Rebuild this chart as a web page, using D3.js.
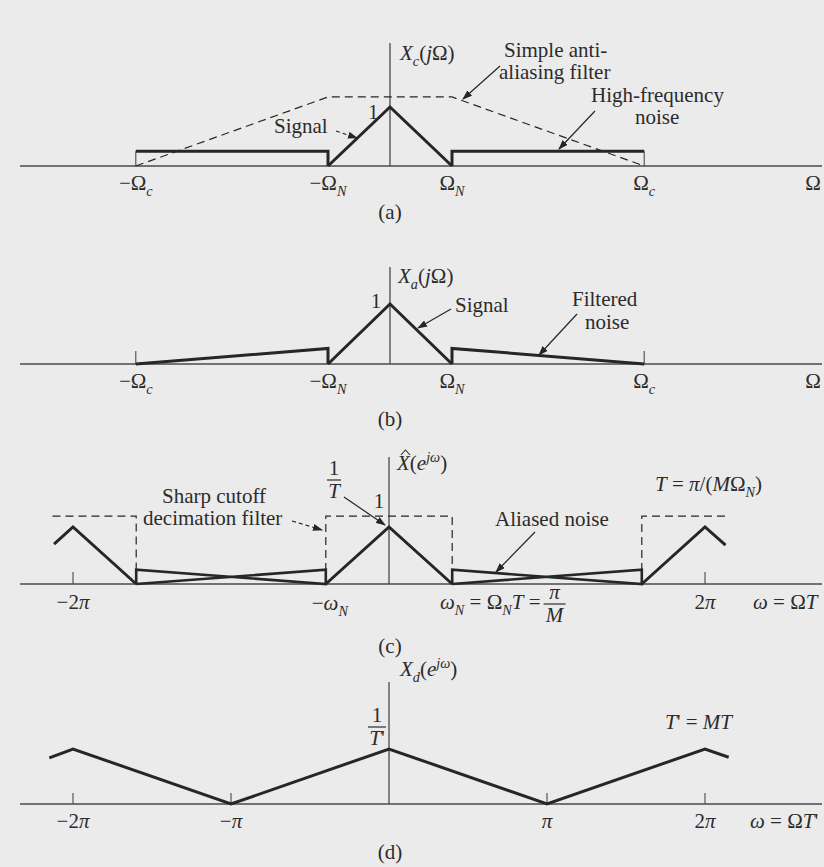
<!DOCTYPE html>
<html lang="en">
<head>
<meta charset="utf-8">
<title>Oversampled A/D conversion spectra</title>
<script src="https://cdn.jsdelivr.net/npm/d3@7"></script>
<style>
  body { margin: 0; background: #ebebeb; }
  svg { display: block; }
  text { font-family: "Liberation Serif", "Times New Roman", Times, "DejaVu Serif", serif; }
</style>
</head>
<body>
<script>

// (a),(b): frequency in units of Omega_N, amplitude relative to the signal peak
var omegaC = 4.1;
var signalPts = [[-1, 0], [0, 1], [1, 0]];
var noiseLevel = 0.25;
var aaFilterPts = [[-omegaC, 0], [-1, 1.17], [1, 1.17], [omegaC, 0]];
var noiseLeftA = [[-omegaC, noiseLevel], [-1, noiseLevel], [-1, 0]];
var noiseRightA = [[1, 0], [1, noiseLevel], [omegaC, noiseLevel]];
var filtNoiseLeftB = [[-omegaC, 0], [-1, 0.26], [-1, 0]];
var filtNoiseRightB = [[1, 0], [1, 0.26], [omegaC, 0]];
var ticksAB = [-omegaC, omegaC];
var tickLabelsAB = [
  { v: -omegaC, parts: [["\u2212\u03A9"], ["c", "is"]] },
  { v: -1, parts: [["\u2212\u03A9"], ["N", "is"]] },
  { v: 1, parts: [["\u03A9"], ["N", "is"]] },
  { v: omegaC, parts: [["\u03A9"], ["c", "is"]] }
];

// (c): omega in units of pi
var wN = 0.4;
var triC = [
  [[-2.12, 0.70], [-2, 1], [-2 + wN, 0]],
  [[-wN, 0], [0, 1], [wN, 0]],
  [[2 - wN, 0], [2, 1], [2.13, 0.68]]
];
var aliasLevel = 0.25;
var aliasC = [
  [[-2 + wN, 0], [-2 + wN, aliasLevel], [-wN, 0], [-wN, aliasLevel], [-2 + wN, 0]],
  [[wN, 0], [wN, aliasLevel], [2 - wN, 0], [2 - wN, aliasLevel], [wN, 0]]
];
var decFilterC = [
  [[-2.13, 1.19], [-2 + wN, 1.19], [-2 + wN, 0]],
  [[-wN, 0], [-wN, 1.19], [wN, 1.19], [wN, 0]],
  [[2 - wN, 0], [2 - wN, 1.19], [2.14, 1.19]]
];
var ticksC = [-2, 2];

// (d): omega in units of pi
var triD = [[-2.15, 0.84], [-2, 1], [-1, 0], [0, 1], [1, 0], [2, 1], [2.15, 0.85]];
var ticksD = [-2, -1, 1, 2];
var tickLabelsD = [
  { v: -2, parts: [["\u22122"], ["\u03C0", "i"]] },
  { v: -1, parts: [["\u2212"], ["\u03C0", "i"]] },
  { v: 1, parts: [["\u03C0", "i"]] },
  { v: 2, parts: [["2"], ["\u03C0", "i"]] }
];

var w = 824, h = 867;
var ink = "#262626", axisInk = "#4a4a4a";
var serif = "'Liberation Serif', 'Times New Roman', Times, serif";

var svg = d3.select("body").append("svg")
  .attr("width", w).attr("height", h);

svg.append("rect").attr("width", w).attr("height", h).attr("fill", "#ebebeb");

var defs = svg.append("defs");
defs.append("marker")
  .attr("id", "head")
  .attr("markerUnits", "userSpaceOnUse")
  .attr("markerWidth", 10).attr("markerHeight", 7)
  .attr("refX", 9).attr("refY", 3.5)
  .attr("orient", "auto")
  .append("path").attr("d", "M0,0 L10,3.5 L0,7 Z").attr("fill", ink);

// text with italic / sub / sup pieces
function richText(g, x, y, parts, anchor, size) {
  size = size || 21;
  var t = g.append("text").attr("x", x).attr("y", y)
    .attr("text-anchor", anchor || "start")
    .attr("font-family", serif)
    .attr("font-size", size).attr("fill", "#2b2b2b");
  var shift = 0;
  parts.forEach(function(p) {
    var f = p[1] || "";
    var target = 0, fs = size;
    if (f.indexOf("s") >= 0) { target = size * 0.28; fs = size * 0.68; }
    if (f.indexOf("S") >= 0) { target = -size * 0.38; fs = size * 0.68; }
    var s = t.append("tspan").attr("dy", target - shift).attr("font-size", fs).text(p[0]);
    if (f.indexOf("i") >= 0) s.attr("font-style", "italic");
    shift = target;
  });
  return t;
}

function arrow(g, x1, y1, x2, y2, dashed) {
  g.append("line")
    .attr("x1", x1).attr("y1", y1).attr("x2", x2).attr("y2", y2)
    .attr("stroke", ink).attr("stroke-width", 1.2)
    .attr("stroke-dasharray", dashed ? "4,3" : null)
    .attr("marker-end", "url(#head)");
}

function fraction(g, cx, yBar, top, bottom, halfW) {
  richText(g, cx, yBar - 5, top, "middle");
  g.append("line").attr("x1", cx - halfW).attr("x2", cx + halfW)
    .attr("y1", yBar).attr("y2", yBar).attr("stroke", "#2b2b2b").attr("stroke-width", 1.2);
  richText(g, cx, yBar + 18, bottom, "middle");
}

function axes(g, x, y, yTop) {
  g.append("line").attr("x1", 20).attr("x2", 822)
    .attr("y1", y(0)).attr("y2", y(0))
    .attr("stroke", axisInk).attr("stroke-width", 1.3);
  g.append("line").attr("x1", x(0)).attr("x2", x(0))
    .attr("y1", y(0)).attr("y2", yTop)
    .attr("stroke", axisInk).attr("stroke-width", 1.3);
}

function drawPath(g, line, pts, width, dash) {
  g.append("path").datum(pts)
    .attr("d", line)
    .attr("fill", "none").attr("stroke", ink)
    .attr("stroke-width", width)
    .attr("stroke-linejoin", "miter")
    .attr("stroke-dasharray", dash || null);
}

function ticks(g, x, y, vals, len) {
  g.selectAll(null).data(vals).enter().append("line")
    .attr("x1", function(d) { return x(d); })
    .attr("x2", function(d) { return x(d); })
    .attr("y1", y(0)).attr("y2", y(0) - len)
    .attr("stroke", axisInk).attr("stroke-width", 1.1);
}

var xAB = d3.scaleLinear().domain([0, 1]).range([390, 452]);
var xCD = d3.scaleLinear().domain([0, 1]).range([389, 547]);

// ---------- (a) ----------
var yA = d3.scaleLinear().domain([0, 1]).range([166, 107]);
var gA = svg.append("g");
var lineA = d3.line().x(function(d) { return xAB(d[0]); }).y(function(d) { return yA(d[1]); });
axes(gA, xAB, yA, 43);
ticks(gA, xAB, yA, ticksAB, yA(0) - yA(noiseLevel));
drawPath(gA, lineA, aaFilterPts, 1.2, "8,5");
drawPath(gA, lineA, noiseLeftA, 3);
drawPath(gA, lineA, noiseRightA, 3);
drawPath(gA, lineA, signalPts, 3);
tickLabelsAB.forEach(function(t) { richText(gA, xAB(t.v), 190, t.parts, "middle"); });
richText(gA, 813, 190, [["\u03A9"]], "middle");
richText(gA, 400, 60, [["X", "i"], ["c", "is"], ["("], ["j", "i"], ["\u03A9)"]]);
richText(gA, 368, 119, [["1"]]);
richText(gA, 274, 133, [["Signal"]]);
arrow(gA, 336, 131, 357, 138, true);
richText(gA, 504, 57, [["Simple anti-"]]);
richText(gA, 499, 79, [["aliasing filter"]]);
arrow(gA, 500, 66, 463, 99);
richText(gA, 591, 102, [["High-frequency"]]);
richText(gA, 635, 124, [["noise"]]);
arrow(gA, 595, 111, 559, 149);
richText(gA, 390, 219, [["(a)"]], "middle");

// ---------- (b) ----------
var yB = d3.scaleLinear().domain([0, 1]).range([364, 304]);
var gB = svg.append("g");
var lineB = d3.line().x(function(d) { return xAB(d[0]); }).y(function(d) { return yB(d[1]); });
axes(gB, xAB, yB, 267);
ticks(gB, xAB, yB, ticksAB, 13);
drawPath(gB, lineB, filtNoiseLeftB, 3);
drawPath(gB, lineB, filtNoiseRightB, 3);
drawPath(gB, lineB, signalPts, 3);
tickLabelsAB.forEach(function(t) { richText(gB, xAB(t.v), 388, t.parts, "middle"); });
richText(gB, 813, 388, [["\u03A9"]], "middle");
richText(gB, 398, 283, [["X", "i"], ["a", "is"], ["("], ["j", "i"], ["\u03A9)"]]);
richText(gB, 376, 308, [["1"]], "middle");
richText(gB, 455, 312, [["Signal"]]);
arrow(gB, 451, 309, 418, 328);
richText(gB, 572, 306, [["Filtered"]]);
richText(gB, 585, 329, [["noise"]]);
arrow(gB, 577, 314, 539, 355);
richText(gB, 390, 426, [["(b)"]], "middle");

// ---------- (c) ----------
var yC = d3.scaleLinear().domain([0, 1]).range([584, 527]);
var gC = svg.append("g");
var lineC = d3.line().x(function(d) { return xCD(d[0]); }).y(function(d) { return yC(d[1]); });
axes(gC, xCD, yC, 457);
ticks(gC, xCD, yC, ticksC, 12);
decFilterC.forEach(function(p) { drawPath(gC, lineC, p, 1.2, "8,5"); });
aliasC.forEach(function(p) { drawPath(gC, lineC, p, 2.6); });
triC.forEach(function(p) { drawPath(gC, lineC, p, 3); });
richText(gC, xCD(-2), 609, [["\u22122"], ["\u03C0", "i"]], "middle");
richText(gC, xCD(-wN) + 4, 610, [["\u2212"], ["\u03C9", "i"], ["N", "is"]], "middle");
richText(gC, xCD(2), 609, [["2"], ["\u03C0", "i"]], "middle");
var wLab = richText(gC, 440, 609, [["\u03C9", "i"], ["N", "is"], [" = \u03A9", ""], ["N", "is"], ["T", "i"], [" ="]]);
var wEnd = wLab.node().getBBox();
fraction(gC, wEnd.x + wEnd.width + 14, 604, [["\u03C0", "i"]], [["M", "i"]], 11);
richText(gC, 753, 609, [["\u03C9", "i"], [" = \u03A9"], ["T", "i"]]);
// X hat label
richText(gC, 397, 470, [["X", "i"], ["("], ["e", "i"], ["j\u03C9", "iS"], [")"]]);
gC.append("path").attr("d", "M401,455 L405.5,450 L410,455")
  .attr("fill", "none").attr("stroke", "#2b2b2b").attr("stroke-width", 1.1);
richText(gC, 655, 491, [["T", "i"], [" = "], ["\u03C0", "i"], ["/("], ["M", "i"], ["\u03A9"], ["N", "is"], [")"]]);
richText(gC, 162, 503, [["Sharp cutoff"]]);
richText(gC, 143, 525, [["decimation filter"]]);
arrow(gC, 292, 521, 322, 530, true);
fraction(gC, 334, 480, [["1"]], [["T", "i"]], 7);
arrow(gC, 344, 497, 385, 525);
richText(gC, 379, 508, [["1"]], "middle");
richText(gC, 495, 526, [["Aliased noise"]]);
arrow(gC, 535, 532, 496, 572);
richText(gC, 390, 653, [["(c)"]], "middle");

// ---------- (d) ----------
var yD = d3.scaleLinear().domain([0, 1]).range([804, 749]);
var gD = svg.append("g");
var lineD = d3.line().x(function(d) { return xCD(d[0]); }).y(function(d) { return yD(d[1]); });
axes(gD, xCD, yD, 682);
ticks(gD, xCD, yD, ticksD, 11);
drawPath(gD, lineD, triD, 3);
tickLabelsD.forEach(function(t) { richText(gD, xCD(t.v), 828, t.parts, "middle"); });
richText(gD, 750, 828, [["\u03C9", "i"], [" = \u03A9"], ["T", "i"], ["'"]]);
richText(gD, 400, 676, [["X", "i"], ["d", "is"], ["("], ["e", "i"], ["j\u03C9", "iS"], [")"]]);
fraction(gD, 377, 727, [["1"]], [["T", "i"], ["'"]], 9);
richText(gD, 665, 729, [["T", "i"], ["' = "], ["M", "i"], ["T", "i"]]);
richText(gD, 390, 859, [["(d)"]], "middle");

</script>
</body>
</html>
